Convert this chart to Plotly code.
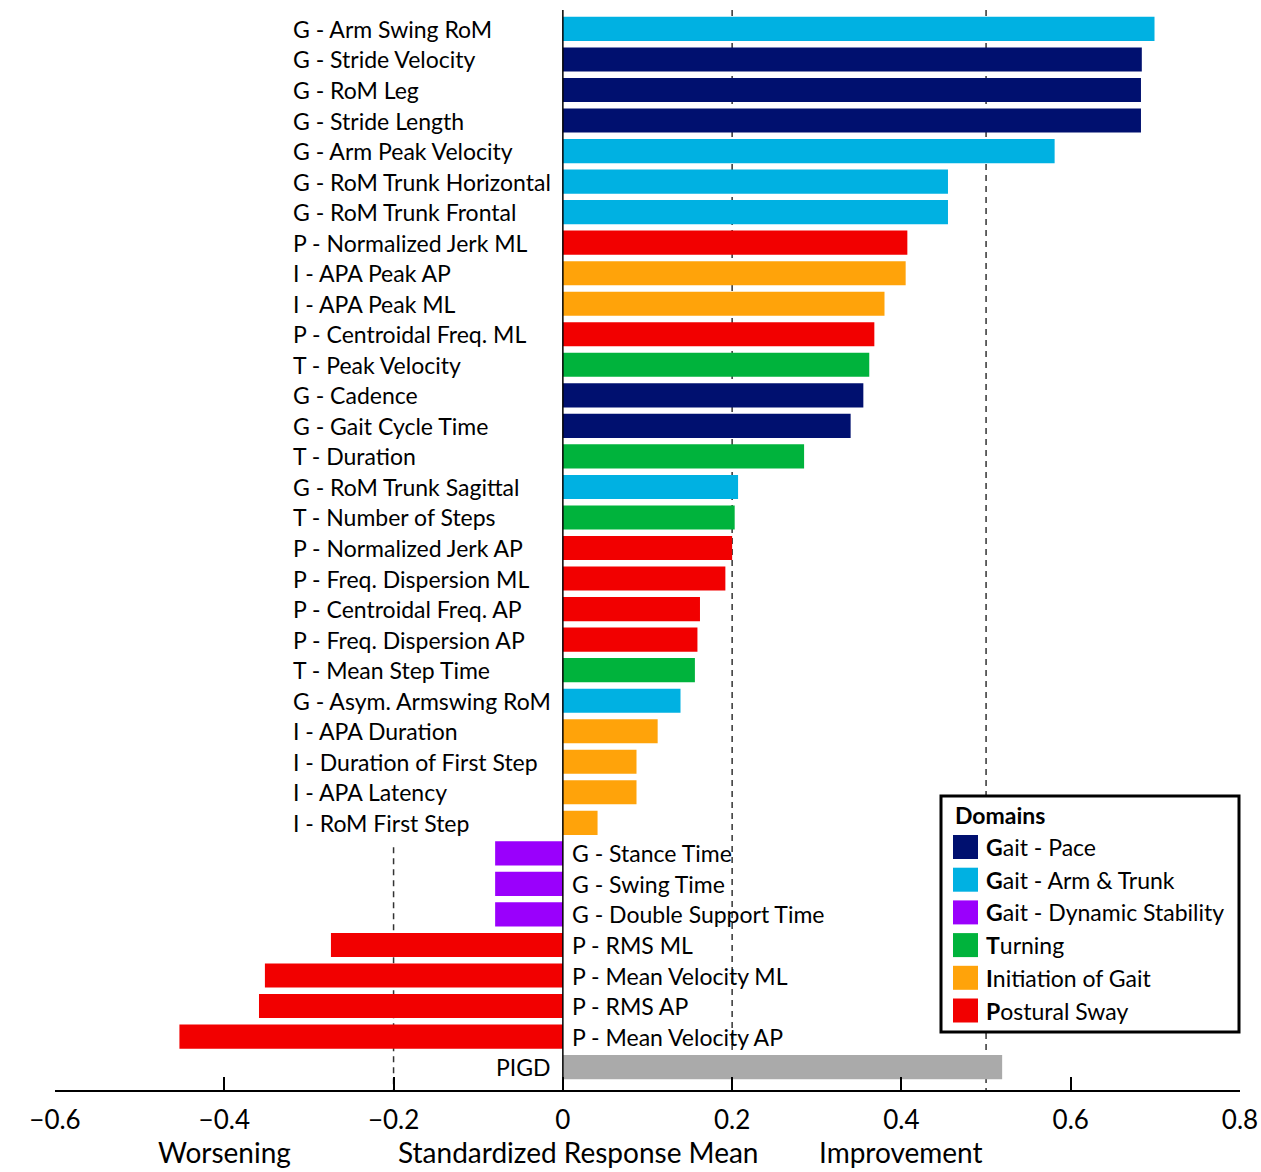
import plotly.graph_objects as go

# Outcome measures, top to bottom, with standardized response means
labels = [
    "G - Arm Swing RoM", "G - Stride Velocity", "G - RoM Leg", "G - Stride Length",
    "G - Arm Peak Velocity", "G - RoM Trunk Horizontal", "G - RoM Trunk Frontal",
    "P - Normalized Jerk ML", "I - APA Peak AP", "I - APA Peak ML",
    "P - Centroidal Freq. ML", "T - Peak Velocity", "G - Cadence",
    "G - Gait Cycle Time", "T - Duration", "G - RoM Trunk Sagittal",
    "T - Number of Steps", "P - Normalized Jerk AP", "P - Freq. Dispersion ML",
    "P - Centroidal Freq. AP", "P - Freq. Dispersion AP", "T - Mean Step Time",
    "G - Asym. Armswing RoM", "I - APA Duration", "I - Duration of First Step",
    "I - APA Latency", "I - RoM First Step", "G - Stance Time", "G - Swing Time",
    "G - Double Support Time", "P - RMS ML", "P - Mean Velocity ML", "P - RMS AP",
    "P - Mean Velocity AP", "PIGD",
]
srm = [
    0.699, 0.684, 0.683, 0.683, 0.581, 0.455, 0.455, 0.407, 0.405, 0.380,
    0.368, 0.362, 0.355, 0.340, 0.285, 0.207, 0.203, 0.200, 0.192, 0.162,
    0.159, 0.156, 0.139, 0.112, 0.087, 0.087, 0.041, -0.080, -0.080, -0.080,
    -0.274, -0.352, -0.359, -0.453, 0.519,
]
domain = [
    "arm", "pace", "pace", "pace", "arm", "arm", "arm", "sway", "init", "init",
    "sway", "turn", "pace", "pace", "turn", "arm", "turn", "sway", "sway", "sway",
    "sway", "turn", "arm", "init", "init", "init", "init", "stab", "stab", "stab",
    "sway", "sway", "sway", "sway", "pigd",
]

domain_keys = ["pace", "arm", "stab", "turn", "init", "sway"]
domain_first = ["G", "G", "G", "T", "I", "P"]
domain_rest = ["ait - Pace", "ait - Arm & Trunk", "ait - Dynamic Stability",
               "urning", "nitiation of Gait", "ostural Sway"]
domain_colors = ["#00106f", "#00b1e2", "#9a00fc", "#00b33c", "#ffa30a", "#f20000"]
pigd_color = "#aaaaaa"

tick_vals = [-0.6, -0.4, -0.2, 0, 0.2, 0.4, 0.6, 0.8]
tick_text = ["\u22120.6", "\u22120.4", "\u22120.2", "0", "0.2", "0.4", "0.6", "0.8"]
ref_lines = [-0.2, 0.2, 0.5]

FONT = "Lato"
W, H = 1261, 1172
ML, MR, MT, MB = 55, 21, 10, 82
PW, PH = W - ML - MR, H - MT - MB


def px(xp):
    return (xp - ML) / PW


def py(yp):
    return (H - MB - yp) / PH


rows = list(range(len(labels)))
fig = go.Figure()

color_of = dict(zip(domain_keys, domain_colors))
color_of["pigd"] = pigd_color
for key in domain_keys + ["pigd"]:
    idx = [i for i in rows if domain[i] == key]
    fig.add_trace(go.Bar(
        x=[srm[i] for i in idx], y=[rows[i] for i in idx],
        orientation="h", width=0.79,
        marker=dict(color=color_of[key], line=dict(width=0)),
        showlegend=False, hoverinfo="skip",
    ))

LBL = dict(size=23, family=FONT, color="black")

# Row labels: left column for improvements, beside the zero line for worsening
for i in rows:
    if labels[i] == "PIGD":
        fig.add_annotation(x=-0.012, y=i, text=labels[i], xanchor="right", yanchor="middle",
                           showarrow=False, font=LBL)
    elif srm[i] >= 0:
        fig.add_annotation(x=px(291), xref="paper", y=i, text=labels[i], xanchor="left",
                           yanchor="middle", showarrow=False, font=LBL)
    else:
        fig.add_annotation(x=0.008, y=i, text=labels[i], xanchor="left", yanchor="middle",
                           showarrow=False, font=LBL)

# Reference thresholds (dashed) and zero line
for v in ref_lines:
    y0 = 26.8 if v < 0 else -0.62
    fig.add_shape(type="line", x0=v, x1=v, y0=y0, y1=34.75, xref="x", yref="y",
                  line=dict(color="#333333", width=1.5, dash="6px,5px"), layer="below")
fig.add_shape(type="line", x0=0, x1=0, y0=-0.7, y1=34.75, xref="x", yref="y",
              line=dict(color="black", width=1.5))

# Domain legend box
fig.add_shape(type="rect", xref="paper", yref="paper",
              x0=px(941), x1=px(1239), y0=py(1032), y1=py(796),
              line=dict(color="black", width=3), fillcolor="white")
fig.add_annotation(xref="paper", yref="paper", x=px(953), y=py(815), text="<b>Domains</b>",
                   xanchor="left", yanchor="middle", showarrow=False, font=LBL)
for k in range(len(domain_keys)):
    cy = 847 + 32.7 * k
    fig.add_shape(type="rect", xref="paper", yref="paper",
                  x0=px(953), x1=px(978), y0=py(cy + 12), y1=py(cy - 12),
                  line=dict(width=0), fillcolor=domain_colors[k])
    fig.add_annotation(xref="paper", yref="paper", x=px(984), y=py(cy),
                       text="<b>" + domain_first[k] + "</b>" + domain_rest[k],
                       xanchor="left", yanchor="middle", showarrow=False, font=LBL)

# Axis caption row
captions = [("Worsening", -0.4), ("Standardized Response Mean", 0.018), ("Improvement", 0.399)]
for txt, xv in captions:
    fig.add_annotation(x=xv, y=py(1152), yref="paper", text=txt, showarrow=False,
                       xanchor="center", yanchor="middle",
                       font=dict(size=28, family=FONT, color="black"))

fig.update_layout(
    width=W, height=H, margin=dict(l=ML, r=MR, t=MT, b=MB),
    paper_bgcolor="white", plot_bgcolor="white", barmode="overlay",
    font=dict(family=FONT, color="black"),
    xaxis=dict(range=[-0.6, 0.8], tickvals=tick_vals, ticktext=tick_text,
               ticks="inside", ticklen=13, tickwidth=1.5, tickcolor="black",
               showline=True, linecolor="black", linewidth=1.5, showgrid=False,
               zeroline=False, automargin=False, ticklabelstandoff=6,
               tickfont=dict(size=26, family=FONT, color="black")),
    yaxis=dict(range=[34.75, -0.62], visible=False, showgrid=False, zeroline=False,
               automargin=False),
)

fig.write_html("out.html")
